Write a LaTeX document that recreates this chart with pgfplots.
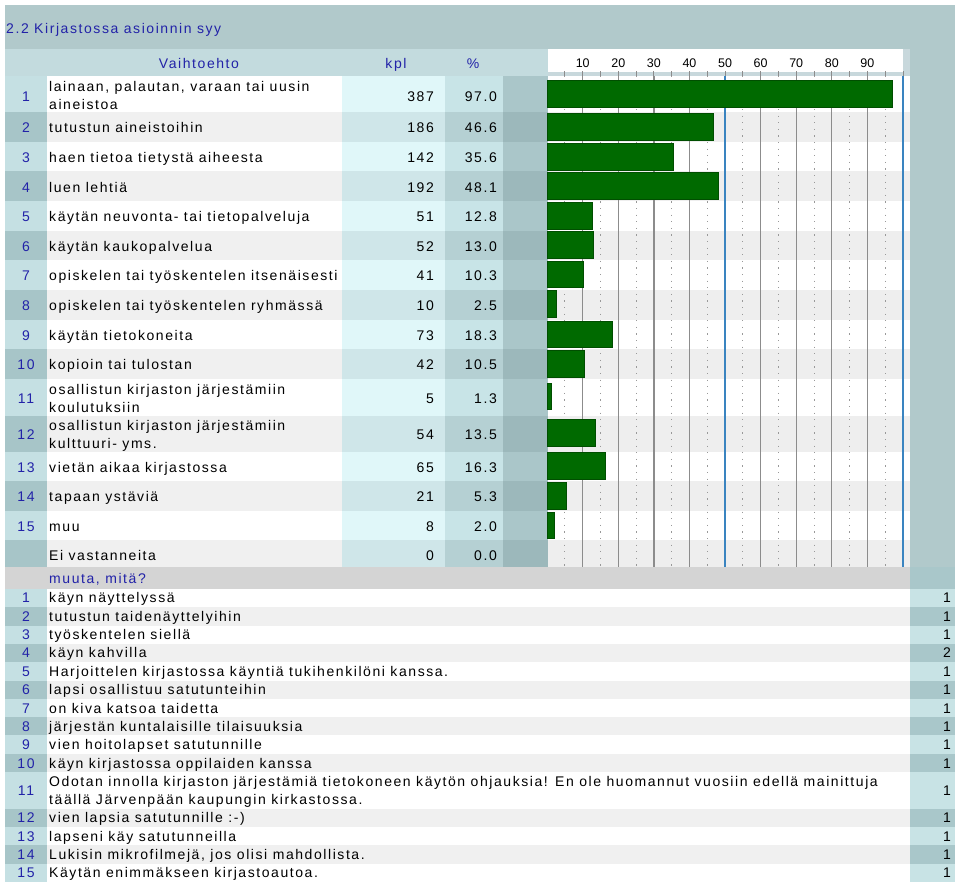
\documentclass[border=0pt]{standalone}
\usepackage{fontspec}
\setmainfont{Liberation Sans}[LetterSpace=11.2]
\newfontfamily\tickfont{Liberation Sans}
\usepackage{pgfplots}
\pgfplotsset{compat=1.18}
\definecolor{tealO}{HTML}{B1C9CB}
\definecolor{headC}{HTML}{C3DBDE}
\definecolor{numA}{HTML}{C5E0E3}
\definecolor{numB}{HTML}{A7C5C8}
\definecolor{txtB}{HTML}{F0F0F0}
\definecolor{kplA}{HTML}{E0F7F9}
\definecolor{kplB}{HTML}{CFE6E9}
\definecolor{pctA}{HTML}{C8E4E7}
\definecolor{pctB}{HTML}{B5D0D3}
\definecolor{dkA}{HTML}{AAC6C9}
\definecolor{dkB}{HTML}{9CB8BB}
\definecolor{barB}{HTML}{EEEEEE}
\definecolor{stripC}{HTML}{C8D8DC}
\definecolor{muutaC}{HTML}{D4D4D4}
\definecolor{rcA}{HTML}{C8E3E5}
\definecolor{rcB}{HTML}{A9C7CA}
\definecolor{txtblue}{HTML}{2222A8}
\definecolor{gridblue}{HTML}{3A84C0}
\definecolor{barG}{HTML}{006A00}
\definecolor{barE}{HTML}{004E00}
\newcommand\fs{\fontsize{14bp}{17bp}\selectfont}
\begin{document}
\begin{tikzpicture}
\begin{scope}[x=1bp,y=-1bp,
  txt/.style={anchor=base west,inner sep=0pt,font=\fs},
  nb/.style={anchor=base,inner sep=0pt,font=\fs,text=txtblue},
  nm/.style={anchor=base east,inner sep=0pt,font=\fs}]
\useasboundingbox (0,0) rectangle (960,885);
\fill[white] (0,0) rectangle (960,885);
% outer frame
\fill[tealO] (5,5) rectangle (955,589);
\fill[headC] (5,49) rectangle (548,76);
\fill[white] (548,49) rectangle (903,72);
\fill[stripC] (548,72) rectangle (910,76);
\fill[stripC] (903,49) rectangle (910,76);
% upper rows background
\foreach \t/\b/\p in {76/112/0,112/142/1,142/171/0,171/201/1,201/231/0,231/260/1,260/290/0,290/320/1,320/349/0,349/379/1,379/416/0,416/452/1,452/481/0,481/511/1,511/540/0,540/567/1}{
  \ifnum\p=0
    \fill[numA] (5,\t) rectangle (47,\b);
    \fill[white] (47,\t) rectangle (342,\b);
    \fill[kplA] (342,\t) rectangle (445,\b);
    \fill[pctA] (445,\t) rectangle (503,\b);
    \fill[dkA] (503,\t) rectangle (548,\b);
    \fill[white] (548,\t) rectangle (910,\b);
  \else
    \fill[numB] (5,\t) rectangle (47,\b);
    \fill[txtB] (47,\t) rectangle (342,\b);
    \fill[kplB] (342,\t) rectangle (445,\b);
    \fill[pctB] (445,\t) rectangle (503,\b);
    \fill[dkB] (503,\t) rectangle (548,\b);
    \fill[barB] (548,\t) rectangle (910,\b);
  \fi
}
% muuta band
\fill[muutaC] (5,567) rectangle (910,589);
\fill[rcB] (910,567) rectangle (955,589);
% lower rows background
\foreach \t/\b/\p in {589/607.3/0,607.3/625.6/1,625.6/643.9/0,643.9/662.2/1,662.2/680.5/0,680.5/698.8/1,698.8/717.1/0,717.1/735.4/1,735.4/753.7/0,753.7/772/1,772/808.6/0,808.6/826.9/1,826.9/845.2/0,845.2/863.5/1,863.5/881.8/0}{
  \ifnum\p=0
    \fill[numA] (5,\t) rectangle (47,\b);
    \fill[white] (47,\t) rectangle (910,\b);
    \fill[rcA] (910,\t) rectangle (955,\b);
  \else
    \fill[numB] (5,\t) rectangle (47,\b);
    \fill[txtB] (47,\t) rectangle (910,\b);
    \fill[rcB] (910,\t) rectangle (955,\b);
  \fi
}
% title and header
\node[anchor=base west,inner sep=0pt,font=\fs,text=txtblue] at (6,33.3) {2.2 Kirjastossa asioinnin syy};
\node[nb] at (199,68.3) {Vaihtoehto};
\node[nb] at (396,68.3) {kpl};
\node[nb] at (473,68.3) {\%};
% upper rows text
\node[nb] at (26,101) {1};
\node[txt] at (49,91) {lainaan, palautan, varaan tai uusin};
\node[txt] at (49,109) {aineistoa};
\node[nm] at (434,101) {387};
\node[nm] at (497,101) {97.0};
\newcommand\urow[5]{%
  \node[nb] at (26,#1+5) {#2};
  \node[txt] at (49,#1+5) {#3};
  \node[nm] at (434,#1+5) {#4};
  \node[nm] at (497,#1+5) {#5};}
\urow{127.5}{2}{tutustun aineistoihin}{186}{46.6}
\urow{157.3}{3}{haen tietoa tietystä aiheesta}{142}{35.6}
\urow{187}{4}{luen lehtiä}{192}{48.1}
\urow{216.5}{5}{käytän neuvonta- tai tietopalveluja}{51}{12.8}
\urow{246}{6}{käytän kaukopalvelua}{52}{13.0}
\urow{275.5}{7}{opiskelen tai työskentelen itsenäisesti}{41}{10.3}
\urow{305.5}{8}{opiskelen tai työskentelen ryhmässä}{10}{2.5}
\urow{335.5}{9}{käytän tietokoneita}{73}{18.3}
\urow{364.5}{10}{kopioin tai tulostan}{42}{10.5}
\node[nb] at (26,403) {11};
\node[txt] at (49,394) {osallistun kirjaston järjestämiin};
\node[txt] at (49,412) {koulutuksiin};
\node[nm] at (434,403) {5};
\node[nm] at (497,403) {1.3};
\node[nb] at (26,439) {12};
\node[txt] at (49,430) {osallistun kirjaston järjestämiin};
\node[txt] at (49,448) {kulttuuri- yms.};
\node[nm] at (434,439) {54};
\node[nm] at (497,439) {13.5};
\urow{467}{13}{vietän aikaa kirjastossa}{65}{16.3}
\urow{496.5}{14}{tapaan ystäviä}{21}{5.3}
\urow{526.5}{15}{muu}{8}{2.0}
\urow{555}{}{Ei vastanneita}{0}{0.0}
% lower section
\node[anchor=base west,inner sep=0pt,font=\fs,text=txtblue] at (49,583) {muuta, mitä?};
\newcommand\lrow[3]{%
  \node[nb] at (26,#1+5) {#2};
  \node[txt] at (49,#1+5) {#3};
  \node[nm] at (951,#1+5) {1};}
\lrow{597.5}{1}{käyn näyttelyssä}
\lrow{616}{2}{tutustun taidenäyttelyihin}
\lrow{634}{3}{työskentelen siellä}
\node[nb] at (26,657) {4};
\node[txt] at (49,657) {käyn kahvilla};
\node[nm] at (951,657) {2};
\lrow{671}{5}{Harjoittelen kirjastossa käyntiä tukihenkilöni kanssa.}
\lrow{689.5}{6}{lapsi osallistuu satutunteihin}
\lrow{708}{7}{on kiva katsoa taidetta}
\lrow{726}{8}{järjestän kuntalaisille tilaisuuksia}
\lrow{744.5}{9}{vien hoitolapset satutunnille}
\lrow{763}{10}{käyn kirjastossa oppilaiden kanssa}
\node[nb] at (26,795) {11};
\node[txt] at (49,786) {Odotan innolla kirjaston järjestämiä tietokoneen käytön ohjauksia! En ole huomannut vuosiin edellä mainittuja};
\node[txt] at (49,804) {täällä Järvenpään kaupungin kirkastossa.};
\node[nm] at (951,795) {1};
\lrow{817.5}{12}{vien lapsia satutunnille :-)}
\lrow{836}{13}{lapseni käy satutunneilla}
\lrow{854}{14}{Lukisin mikrofilmejä, jos olisi mahdollista.}
\lrow{872.5}{15}{Käytän enimmäkseen kirjastoautoa.}
\end{scope}
\begin{axis}[
  at={(547.1bp,-76bp)}, anchor=north west,
  width=355.9bp, height=491bp, scale only axis,
  xmin=0, xmax=100, ymin=76, ymax=567, y dir=reverse,
  axis line style={draw=none},
  xbar, bar width=26.5,
  xtick={10,20,30,40,60,70,80,90},
  minor xtick={5,15,...,95},
  extra x ticks={50,100},
  extra x tick labels={50,{}},
  extra x tick style={grid style={color=gridblue,line width=1.3bp},
    major grid style={color=gridblue,line width=1.3bp}},
  ytick=\empty,
  xmajorgrids, xminorgrids,
  major grid style={color=black!45,line width=1.3bp},
  minor grid style={color=black!40,line width=0.9bp,dash pattern=on 1.1bp off 5.5bp},
  xtick pos=right, xticklabel pos=right, tick align=outside,
  major tick length=5bp, minor tick length=5bp,
  tick style={color=black!45,line width=0.9bp},
  /pgf/number format/assume math mode=true,
  ticklabel style={font=\tickfont\fontsize{12.5bp}{13bp}\selectfont},
]
\addplot[fill=barG, draw=barE, line width=0.8bp] coordinates {
(97.0,93.7) (46.6,126.7) (35.6,156.7) (48.1,186) (12.8,215.7)
(13.0,245) (10.3,274.5) (2.5,304) (18.3,334.3) (10.5,363.8)
(1.3,396.5) (13.5,433) (16.3,466) (5.3,495.8) (2.0,525.5)
};
\end{axis}
\end{tikzpicture}
\end{document}
